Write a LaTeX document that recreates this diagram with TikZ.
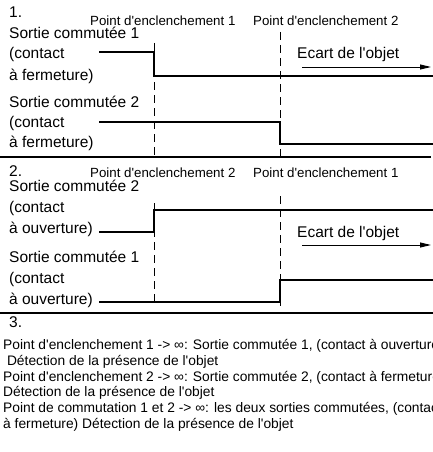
\documentclass[tikz,border=0pt]{standalone}
\usepackage{fontspec}
\newfontfamily\lsans{Liberation Sans}
\usetikzlibrary{arrows.meta}
\begin{document}
\begin{tikzpicture}[x=1pt,y=-1pt,
  big/.style={font=\lsans\fontsize{15.5}{18}\selectfont,anchor=base west,inner sep=0pt},
  lab/.style={font=\lsans\fontsize{13.3}{16}\selectfont,anchor=base west,inner sep=0pt},
  txt/.style={font=\lsans\fontsize{13.8}{16}\selectfont,anchor=base west,inner sep=0pt},
  signal/.style={line width=2.4pt,line cap=butt,line join=miter},
  sep/.style={line width=1.4pt},
  guide/.style={line width=0.8pt,dash pattern=on 8pt off 5pt},
  arr/.style={line width=1pt,-{Triangle[length=11pt,width=5pt]}}]
\clip (0,0) rectangle (433,452);
% ---------- panel 1
\node[big] (n1) at (9,18) {1.};
\node[lab] (p1a) at (90,26) {Point d'enclenchement 1};
\node[lab] (p1b) at (253,26) {Point d'enclenchement 2};
\node[big] (s1) at (9,38) {Sortie commutée 1};
\node[big] (s1c) at (9,59) {(contact};
\node[big] (s1f) at (9,80) {à fermeture)};
\node[big] (s2) at (9,107) {Sortie commutée 2};
\node[big] (s2c) at (9,127) {(contact};
\node[big] (s2f) at (9,147) {à fermeture)};
\node[big] (e1) at (297,59) {Ecart de l'objet};
\draw[guide] (154,43) -- (154,157);
\draw[guide] (280,32) -- (280,157);
\draw[signal] (99,52) -- (154,52) -- (154,76) -- (433,76);
\draw[signal] (99,122) -- (280,122) -- (280,144) -- (433,144);
\coordinate (a1s) at (302,67);
\coordinate (a1e) at (431,67);
\draw[arr] (a1s) -- (a1e);
\draw[sep] (0,157) -- (431,157);
% ---------- panel 2
\node[big] (n2) at (9,176) {2.};
\node[lab] (p2a) at (90,177) {Point d'enclenchement 2};
\node[lab] (p2b) at (253,177) {Point d'enclenchement 1};
\node[big] (t2) at (9,191) {Sortie commutée 2};
\node[big] (t2c) at (9,212) {(contact};
\node[big] (t2o) at (9,233) {à ouverture)};
\node[big] (t1) at (9,262) {Sortie commutée 1};
\node[big] (t1c) at (9,283) {(contact};
\node[big] (t1o) at (9,304) {à ouverture)};
\node[big] (e2) at (297,237) {Ecart de l'objet};
\draw[guide] (154,203) -- (154,306);
\draw[guide] (280,196) -- (280,306);
\draw[signal] (99,232) -- (154,232) -- (154,210) -- (433,210);
\draw[signal] (99,302) -- (280,302) -- (280,280) -- (433,280);
\coordinate (a2s) at (302,245);
\coordinate (a2e) at (431,245);
\draw[arr] (a2s) -- (a2e);
\draw[sep] (0,313) -- (433,313);
% ---------- panel 3
\node[big] (n3) at (9,327) {3.};
\node[txt] (l1) at (3,349) {Point d'enclenchement 1 -> ∞: Sortie commutée 1, (contact à ouverture)};
\node[txt] (l2) at (3,365) {\ Détection de la présence de l'objet};
\node[txt] (l3) at (3,381) {Point d'enclenchement 2 -> ∞: Sortie commutée 2, (contact à fermeture)};
\node[txt] (l4) at (3,396.5) {Détection de la présence de l'objet};
\node[txt] (l5) at (3,412.5) {Point de commutation 1 et 2 -> ∞: les deux sorties commutées, (contact};
\node[txt] (l6) at (3,428) {à fermeture) Détection de la présence de l'objet};
\end{tikzpicture}
\end{document}
